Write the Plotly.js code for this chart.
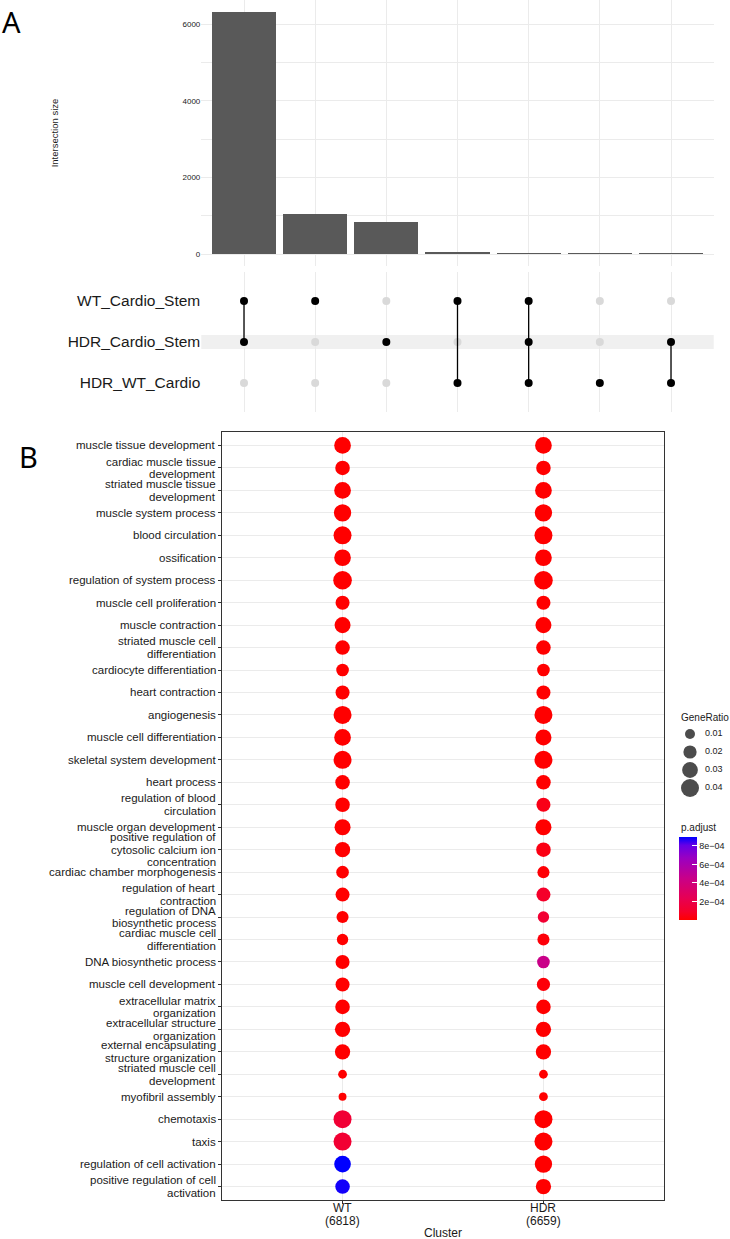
<!DOCTYPE html>
<html>
<head>
<meta charset="utf-8">
<script src="https://cdn.plot.ly/plotly-3.0.1.min.js"></script>
<style>html,body{margin:0;padding:0;background:#fff;}</style>
</head>
<body>
<div id="chart" style="width:730px;height:1239px;"></div>
<script>
// ---------- DATA ----------
const setNames = ["WT_Cardio_Stem", "HDR_Cardio_Stem", "HDR_WT_Cardio"];
const intersectionSizes = [6313, 1052, 835, 52, 35, 18, 15];
// membership[i][s] = 1 if intersection i includes set s
const membership = [
  [1, 1, 0],
  [1, 0, 0],
  [0, 1, 0],
  [1, 0, 1],
  [1, 1, 1],
  [0, 0, 1],
  [0, 1, 1]
];
const shadedSet = "HDR_Cardio_Stem";

const goTerms = [
  "muscle tissue development",
  "cardiac muscle tissue development",
  "striated muscle tissue development",
  "muscle system process",
  "blood circulation",
  "ossification",
  "regulation of system process",
  "muscle cell proliferation",
  "muscle contraction",
  "striated muscle cell differentiation",
  "cardiocyte differentiation",
  "heart contraction",
  "angiogenesis",
  "muscle cell differentiation",
  "skeletal system development",
  "heart process",
  "regulation of blood circulation",
  "muscle organ development",
  "positive regulation of cytosolic calcium ion concentration",
  "cardiac chamber morphogenesis",
  "regulation of heart contraction",
  "regulation of DNA biosynthetic process",
  "cardiac muscle cell differentiation",
  "DNA biosynthetic process",
  "muscle cell development",
  "extracellular matrix organization",
  "extracellular structure organization",
  "external encapsulating structure organization",
  "striated muscle cell development",
  "myofibril assembly",
  "chemotaxis",
  "taxis",
  "regulation of cell activation",
  "positive regulation of cell activation"
];
const clusters = ["WT", "HDR"];
const clusterCounts = [6818, 6659];
const geneRatioWT = [0.034, 0.025, 0.034, 0.037, 0.040, 0.034, 0.043, 0.023, 0.031, 0.025,
                     0.018, 0.023, 0.040, 0.034, 0.040, 0.025, 0.025, 0.031, 0.028, 0.018,
                     0.023, 0.016, 0.014, 0.023, 0.023, 0.025, 0.028, 0.028, 0.007, 0.005,
                     0.040, 0.040, 0.034, 0.025];
const geneRatioHDR = [0.034, 0.025, 0.034, 0.037, 0.040, 0.034, 0.043, 0.023, 0.031, 0.025,
                      0.018, 0.023, 0.040, 0.031, 0.040, 0.025, 0.023, 0.031, 0.025, 0.016,
                      0.023, 0.014, 0.016, 0.018, 0.020, 0.025, 0.028, 0.028, 0.007, 0.007,
                      0.040, 0.040, 0.037, 0.028];
const padjWT = [1e-20, 1e-12, 1e-18, 1e-19, 1e-20, 1e-16, 1e-21, 1e-9, 1e-15, 1e-10,
                1e-8, 1e-11, 1e-17, 1e-15, 1e-16, 1e-11, 1e-9, 1e-13, 1e-9, 1e-7,
                1e-8, 1e-6, 1e-6, 1e-7, 1e-8, 1e-8, 1e-9, 1e-9, 1e-6, 1e-6,
                1.3e-4, 1.2e-4, 8.97e-4, 8.8e-4];
const padjHDR = [1e-20, 1e-12, 1e-18, 1e-19, 1e-20, 1e-16, 1e-21, 1e-9, 1e-15, 1e-10,
                 1e-8, 1e-11, 1e-17, 1e-15, 1e-16, 1e-11, 5e-5, 1e-13, 4e-5, 1e-5,
                 9e-5, 1.2e-4, 2e-5, 4.5e-4, 2e-5, 1e-8, 1e-9, 1e-9, 1e-6, 1e-6,
                 1e-14, 1e-14, 1e-12, 1e-10];
const sizeLegendValues = [0.01, 0.02, 0.03, 0.04];
const padjTickValues = [2e-4, 4e-4, 6e-4, 8e-4];
const padjTickLabels = ["2e\u221204", "4e\u221204", "6e\u221204", "8e\u221204"];

// ---------- HELPERS ----------
const W = 730, H = 1239;
const px = v => v / W;
const py = v => 1 - v / H;
const wrapLines = (s, width) => {
  const words = s.split(" "); const lines = []; let cur = "";
  words.forEach(w => {
    if (cur === "") cur = w;
    else if ((cur + " " + w).length <= width) cur += " " + w;
    else { lines.push(cur); cur = w; }
  });
  if (cur) lines.push(cur);
  return lines;
};
const ratioToDiam = r => Math.sqrt(25.3 + 7467 * r);
const FONT = "Liberation Sans, Arial, Helvetica, sans-serif";
const GRID = "#ebebeb";
const TXT = "#1a1a1a";

// red -> blue, Lab interpolation approximation
const pScale = [[0, "#FF0000"], [0.1, "#F5002A"], [0.25, "#E80050"], [0.5, "#C90088"],
                [0.75, "#9900C2"], [0.9, "#6600E6"], [1, "#0000FF"]];

const traces = [];
const colIdx = intersectionSizes.map((_, i) => i + 1);

// Bars
traces.push({
  type: "bar", x: colIdx, y: intersectionSizes, width: 0.9,
  marker: {color: "#595959", line: {width: 0}},
  xaxis: "x", yaxis: "y", hoverinfo: "y", showlegend: false
});

// Matrix
const rowY = s => setNames.length - s; // first set at top
const gx = [], gy = [], bx = [], by = [], lx = [], ly = [];
membership.forEach((m, i) => {
  const rows = [];
  m.forEach((v, s) => {
    if (v) { bx.push(i + 1); by.push(rowY(s)); rows.push(rowY(s)); }
    else { gx.push(i + 1); gy.push(rowY(s)); }
  });
  if (rows.length > 1) {
    lx.push(i + 1, i + 1, null);
    ly.push(Math.min(...rows), Math.max(...rows), null);
  }
});
traces.push({type: "scatter", mode: "markers", x: gx, y: gy, xaxis: "x2", yaxis: "y2",
  marker: {color: "#d9d9d9", size: 8}, hoverinfo: "skip", showlegend: false});
traces.push({type: "scatter", mode: "lines", x: lx, y: ly, xaxis: "x2", yaxis: "y2",
  line: {color: "#000", width: 1.3}, hoverinfo: "skip", showlegend: false, connectgaps: false});
traces.push({type: "scatter", mode: "markers", x: bx, y: by, xaxis: "x2", yaxis: "y2",
  marker: {color: "#000", size: 8}, hoverinfo: "skip", showlegend: false});

// Dot plot
const dx = [], dy = [], ds = [], dc = [];
goTerms.forEach((t, i) => {
  dx.push(1); dy.push(i + 1); ds.push(ratioToDiam(geneRatioWT[i])); dc.push(padjWT[i]);
  dx.push(2); dy.push(i + 1); ds.push(ratioToDiam(geneRatioHDR[i])); dc.push(padjHDR[i]);
});
const allP = padjWT.concat(padjHDR);
traces.push({
  type: "scatter", mode: "markers", x: dx, y: dy, xaxis: "x3", yaxis: "y3",
  marker: {
    size: ds, sizemode: "diameter", color: dc, colorscale: pScale,
    cmin: 0, cmax: Math.max(...allP), line: {width: 0}, opacity: 1,
    colorbar: {
      x: px(679), xanchor: "left", y: py(920), yanchor: "bottom",
      lenmode: "pixels", len: 83, thicknessmode: "pixels", thickness: 18,
      xpad: 0, ypad: 0, outlinewidth: 0,
      tickvals: padjTickValues, ticktext: padjTickLabels,
      ticks: "inside", ticklen: 5, tickcolor: "#ffffff", tickwidth: 1,
      tickfont: {family: FONT, size: 9, color: TXT}
    }
  },
  hoverinfo: "skip", showlegend: false
});

// Size legend
traces.push({type: "scatter", mode: "markers", x: sizeLegendValues.map(() => 0),
  y: sizeLegendValues.map((_, i) => i), xaxis: "x4", yaxis: "y4",
  marker: {size: sizeLegendValues.map(ratioToDiam), color: "#000", line: {width: 0}},
  hoverinfo: "skip", showlegend: false});
traces.push({type: "scatter", mode: "text", x: sizeLegendValues.map(() => 1.15),
  y: sizeLegendValues.map((_, i) => i), xaxis: "x4", yaxis: "y4",
  text: sizeLegendValues.map(v => v.toFixed(2)), textposition: "middle right",
  textfont: {family: FONT, size: 9, color: TXT}, hoverinfo: "skip", showlegend: false});

const shadeRow = rowY(setNames.indexOf(shadedSet));

// GO term labels (wrapped, vertically centred on their row like ggplot)
const LINE_H = 12.6;
const termAnnotations = [];
goTerms.forEach((t, i) => {
  const lines = wrapLines(t, 29);
  const n = lines.length;
  lines.forEach((ln, k) => {
    termAnnotations.push({
      text: ln, xref: "paper", x: px(217.5), xanchor: "right",
      yref: "y3", y: i + 1, yanchor: "middle", yshift: ((n - 1) / 2 - k) * LINE_H,
      showarrow: false, font: {family: FONT, size: 11.5, color: TXT}
    });
  });
});
// Cluster labels (two lines, tight spacing like ggplot)
const clusterAnnotations = [];
clusters.forEach((c, i) => {
  [c, "(" + clusterCounts[i] + ")"].forEach((ln, k) => {
    clusterAnnotations.push({
      text: ln, xref: "x3", x: i + 1, xanchor: "center",
      yref: "paper", y: py(1208 + k * LINE_H), yanchor: "middle",
      showarrow: false, font: {family: FONT, size: 12, color: TXT}
    });
  });
});

const layout = {
  width: W, height: H, margin: {l: 0, r: 0, t: 0, b: 0},
  paper_bgcolor: "#fff", plot_bgcolor: "rgba(0,0,0,0)",
  font: {family: FONT, color: TXT},
  showlegend: false, bargap: 0,
  xaxis: {domain: [px(201.3), px(713.7)], range: [0.4, 7.6], anchor: "y",
    tickvals: colIdx, showticklabels: false, ticks: "", showgrid: true, gridcolor: GRID,
    zeroline: false, showline: false, automargin: false, fixedrange: true},
  yaxis: {domain: [py(266), py(0)], range: [-313, 6635], anchor: "x",
    tickvals: [0, 2000, 4000, 6000], ticks: "", showgrid: true, gridcolor: GRID,
    minor: {tickvals: [1000, 3000, 5000], showgrid: true, gridcolor: GRID, ticks: ""},
    tickfont: {family: FONT, size: 8, color: TXT},
    zeroline: false, showline: false, automargin: false,
    title: {text: "Intersection size", font: {family: FONT, size: 9.5, color: TXT}, standoff: 122}},
  xaxis2: {domain: [px(201.3), px(713.7)], range: [0.4, 7.6], anchor: "y2",
    tickvals: colIdx, showticklabels: false, ticks: "", showgrid: true, gridcolor: GRID,
    zeroline: false, showline: false, automargin: false},
  yaxis2: {domain: [py(412), py(272)], range: [0.29, 3.71], anchor: "x2",
    tickvals: setNames.map((_, s) => rowY(s)), ticktext: setNames, ticks: "",
    showgrid: false, zeroline: false, showline: false, automargin: false,
    tickfont: {family: FONT, size: 15.5, color: TXT}},
  xaxis3: {domain: [px(222), px(664)], range: [0.4, 2.6], anchor: "y3",
    tickvals: [1, 2], showticklabels: false,
    ticks: "outside", ticklen: 3, tickcolor: "#333", showgrid: true, gridcolor: GRID,
    showline: true, mirror: true, linecolor: "#333", linewidth: 1, zeroline: false,
    automargin: false},
  yaxis3: {domain: [py(1200), py(432)], range: [34.6, 0.4], anchor: "x3",
    tickvals: goTerms.map((_, i) => i + 1), showticklabels: false,
    ticks: "outside", ticklen: 3, tickcolor: "#333", showgrid: true, gridcolor: GRID,
    showline: true, mirror: true, linecolor: "#333", linewidth: 1, zeroline: false,
    automargin: false},
  xaxis4: {domain: [px(677), px(729)], range: [-1, 3], anchor: "y4", visible: false},
  yaxis4: {domain: [py(797), py(725)], range: [3.5, -0.5], anchor: "x4", visible: false},
  shapes: [{type: "rect", xref: "x2 domain", x0: 0, x1: 1, yref: "y2",
    y0: shadeRow - 0.17, y1: shadeRow + 0.17, fillcolor: "#f0f0f0", line: {width: 0}, layer: "below"}],
  annotations: [
    {text: "A", xref: "paper", yref: "paper", x: px(11), y: py(22), xanchor: "center", yanchor: "middle",
     showarrow: false, font: {family: "Noto Sans, Open Sans, sans-serif", size: 29, color: "#000"}},
    {text: "B", xref: "paper", yref: "paper", x: px(28), y: py(456), xanchor: "center", yanchor: "middle",
     showarrow: false, font: {family: "Noto Sans, Open Sans, sans-serif", size: 29, color: "#000"}},
    {text: "GeneRatio", xref: "paper", yref: "paper", x: px(679), y: py(717), xanchor: "left", yanchor: "middle",
     showarrow: false, font: {family: FONT, size: 10, color: TXT}},
    {text: "p.adjust", xref: "paper", yref: "paper", x: px(679), y: py(827), xanchor: "left", yanchor: "middle",
     showarrow: false, font: {family: FONT, size: 10, color: TXT}},
    {text: "Cluster", xref: "x3", x: 1.5, xanchor: "center", yref: "paper", y: py(1233), yanchor: "middle",
     showarrow: false, font: {family: FONT, size: 12, color: TXT}}
  ].concat(termAnnotations, clusterAnnotations)
};

Plotly.newPlot("chart", traces, layout, {staticPlot: true, displayModeBar: false});
</script>
</body>
</html>
